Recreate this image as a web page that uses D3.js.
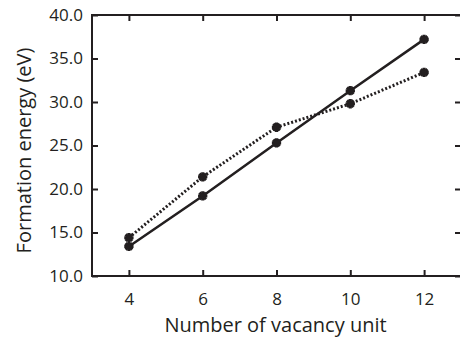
<!DOCTYPE html>
<html>
<head>
<meta charset="utf-8">
<script src="https://cdn.jsdelivr.net/npm/d3@7"></script>
<style>
  body { margin: 0; background: #fff; }
  text { font-family: "Open Sans", sans-serif; fill: #231f20; }
</style>
</head>
<body>
<div id="chart"></div>
<script>
const vacancies = [4, 6, 8, 10, 12];
const solidEnergy = [13.4, 19.2, 25.3, 31.3, 37.2];
const dottedEnergy = [14.4, 21.4, 27.1, 29.8, 33.4];
const yTicks = [10, 15, 20, 25, 30, 35, 40];

const margin = { top: 15, right: -1, bottom: 62, left: 92 };
const width = 460 - margin.left - margin.right;
const height = 338 - margin.top - margin.bottom;

const x = d3.scaleLinear().domain([3, 13]).range([0, width]);
const y = d3.scaleLinear().domain([10, 40]).range([height, 0]);

const svg = d3
  .select("#chart")
  .append("svg")
  .attr("width", 460)
  .attr("height", 338)
  .append("g")
  .attr("transform", "translate(" + margin.left + "," + margin.top + ")");

// frame
svg
  .append("rect")
  .attr("width", width)
  .attr("height", height)
  .attr("fill", "none")
  .attr("stroke", "#231f20")
  .attr("stroke-width", 2);

// ticks point inward on all four sides
const xAxis = svg
  .append("g")
  .attr("transform", "translate(0," + height + ")")
  .call(d3.axisBottom(x).tickValues(vacancies).tickSize(-6).tickPadding(17));
const xTop = svg
  .append("g")
  .call(d3.axisTop(x).tickValues(vacancies).tickSize(-6).tickFormat(""));
const yAxis = svg
  .append("g")
  .call(d3.axisLeft(y).tickValues(yTicks).tickSize(-6).tickPadding(9).tickFormat(d3.format(".1f")));
const yRight = svg
  .append("g")
  .attr("transform", "translate(" + width + ",0)")
  .call(d3.axisRight(y).tickValues(yTicks).tickSize(-6).tickFormat(""));

[xAxis, xTop, yAxis, yRight].forEach(function(g) {
  g.select(".domain").remove();
  g.selectAll(".tick line").attr("stroke", "#231f20").attr("stroke-width", 2);
  g.selectAll(".tick text").style("font-size", "17px").attr("fill", "#231f20");
});

const line = d3
  .line()
  .x(function(d) { return x(d[0]); })
  .y(function(d) { return y(d[1]); });

const solidPts = vacancies.map(function(v, i) { return [v, solidEnergy[i]]; });
const dottedPts = vacancies.map(function(v, i) { return [v, dottedEnergy[i]]; });

svg
  .append("path")
  .datum(dottedPts)
  .attr("d", line)
  .attr("fill", "none")
  .attr("stroke", "#231f20")
  .attr("stroke-width", 3)
  .attr("stroke-dasharray", "2,2");

svg
  .append("path")
  .datum(solidPts)
  .attr("d", line)
  .attr("fill", "none")
  .attr("stroke", "#231f20")
  .attr("stroke-width", 2.5);

// star-ish marker: a plus and an x laid over each other
const marker = d3.symbol().type(d3.symbolCross).size(48);

[solidPts, dottedPts].forEach(function(pts) {
  svg
    .selectAll(null)
    .data(pts)
    .enter()
    .append("g")
    .attr("transform", function(d) {
      return "translate(" + x(d[0]) + "," + y(d[1]) + ")";
    })
    .each(function() {
      const g = d3.select(this);
      g.append("path").attr("d", marker).attr("fill", "#231f20");
      g.append("path").attr("d", marker).attr("fill", "#231f20").attr("transform", "rotate(45)");
    });
});

// axis titles
svg
  .append("text")
  .attr("x", x(8) - 1)
  .attr("y", height + 56)
  .attr("text-anchor", "middle")
  .style("font-size", "20px")
  .text("Number of vacancy unit");

svg
  .append("text")
  .attr("transform", "translate(" + -61 + "," + (height / 2 + 5) + ") rotate(-90)")
  .attr("text-anchor", "middle")
  .style("font-size", "20px")
  .text("Formation energy (eV)");
</script>
</body>
</html>
